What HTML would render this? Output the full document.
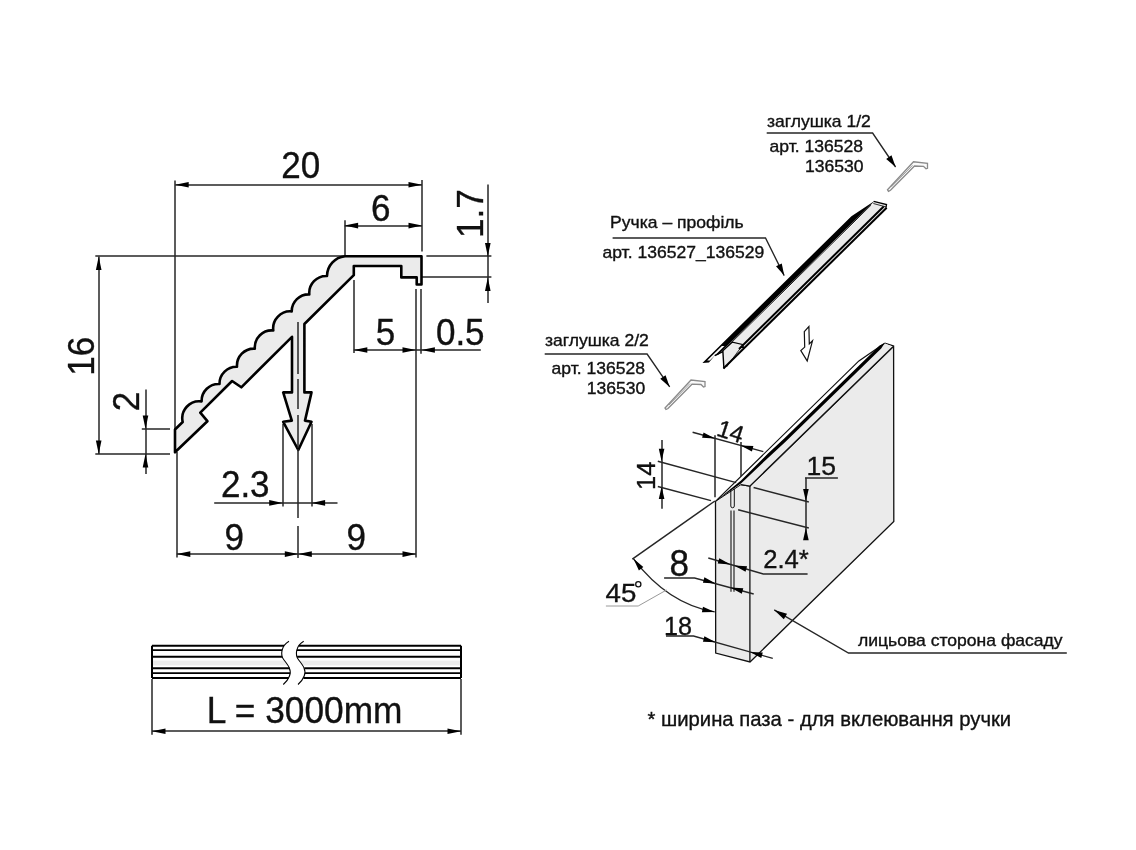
<!DOCTYPE html>
<html><head><meta charset="utf-8"><style>
html,body{margin:0;padding:0;background:#fff;width:1136px;height:850px;overflow:hidden}
svg{display:block;filter:grayscale(1)}
text{font-family:"Liberation Sans",sans-serif;fill:#111;stroke:#111;stroke-width:0.35px}
</style></head><body>
<svg width="1136" height="850" viewBox="0 0 1136 850">
<rect width="1136" height="850" fill="#fff"/>
<line x1="175.00" y1="180.50" x2="175.00" y2="440.00" stroke="#262626" stroke-width="1.5" />
<line x1="177.00" y1="452.00" x2="177.00" y2="557.50" stroke="#262626" stroke-width="1.5" />
<line x1="422.00" y1="180.00" x2="422.00" y2="251.50" stroke="#262626" stroke-width="1.5" />
<line x1="345.00" y1="220.30" x2="345.00" y2="256.30" stroke="#262626" stroke-width="1.5" />
<line x1="95.30" y1="256.00" x2="345.00" y2="256.00" stroke="#262626" stroke-width="1.5" />
<line x1="426.40" y1="256.00" x2="491.40" y2="256.00" stroke="#262626" stroke-width="1.5" />
<line x1="421.70" y1="277.00" x2="491.40" y2="277.00" stroke="#262626" stroke-width="1.5" />
<line x1="95.30" y1="454.00" x2="170.00" y2="454.00" stroke="#262626" stroke-width="1.5" />
<line x1="141.80" y1="429.00" x2="170.00" y2="429.00" stroke="#262626" stroke-width="1.5" />
<line x1="354.00" y1="279.90" x2="354.00" y2="353.10" stroke="#262626" stroke-width="1.5" />
<line x1="416.00" y1="289.00" x2="416.00" y2="557.50" stroke="#262626" stroke-width="1.5" />
<line x1="421.00" y1="289.00" x2="421.00" y2="353.80" stroke="#262626" stroke-width="1.5" />
<line x1="283.00" y1="424.00" x2="283.00" y2="506.50" stroke="#262626" stroke-width="1.5" />
<line x1="312.00" y1="424.00" x2="312.00" y2="506.50" stroke="#262626" stroke-width="1.5" />
<line x1="175.20" y1="185.00" x2="422.00" y2="185.00" stroke="#262626" stroke-width="1.5" />
<polygon points="175.20,184.80 188.70,182.00 188.70,187.60" fill="#000" stroke="none" stroke-width="1.0" />
<polygon points="422.00,184.80 408.50,187.60 408.50,182.00" fill="#000" stroke="none" stroke-width="1.0" />
<line x1="344.60" y1="226.00" x2="422.00" y2="226.00" stroke="#262626" stroke-width="1.5" />
<polygon points="344.60,225.60 358.10,222.80 358.10,228.40" fill="#000" stroke="none" stroke-width="1.0" />
<polygon points="422.00,225.60 408.50,228.40 408.50,222.80" fill="#000" stroke="none" stroke-width="1.0" />
<line x1="488.00" y1="184.40" x2="488.00" y2="303.10" stroke="#262626" stroke-width="1.5" />
<polygon points="487.80,256.40 485.00,242.90 490.60,242.90" fill="#000" stroke="none" stroke-width="1.0" />
<polygon points="487.80,277.40 490.60,290.90 485.00,290.90" fill="#000" stroke="none" stroke-width="1.0" />
<line x1="99.00" y1="256.40" x2="99.00" y2="454.00" stroke="#262626" stroke-width="1.5" />
<polygon points="98.70,256.40 101.50,269.90 95.90,269.90" fill="#000" stroke="none" stroke-width="1.0" />
<polygon points="98.70,454.00 95.90,440.50 101.50,440.50" fill="#000" stroke="none" stroke-width="1.0" />
<line x1="146.00" y1="389.60" x2="146.00" y2="474.00" stroke="#262626" stroke-width="1.5" />
<polygon points="145.50,429.10 142.70,415.60 148.30,415.60" fill="#000" stroke="none" stroke-width="1.0" />
<polygon points="145.50,454.00 148.30,467.50 142.70,467.50" fill="#000" stroke="none" stroke-width="1.0" />
<line x1="353.80" y1="350.00" x2="480.80" y2="350.00" stroke="#262626" stroke-width="1.5" />
<polygon points="353.80,350.00 367.30,347.20 367.30,352.80" fill="#000" stroke="none" stroke-width="1.0" />
<polygon points="416.00,350.00 402.50,352.80 402.50,347.20" fill="#000" stroke="none" stroke-width="1.0" />
<polygon points="421.40,350.00 434.90,347.20 434.90,352.80" fill="#000" stroke="none" stroke-width="1.0" />
<line x1="214.20" y1="503.00" x2="337.50" y2="503.00" stroke="#262626" stroke-width="1.5" />
<polygon points="282.70,502.90 269.20,505.70 269.20,500.10" fill="#000" stroke="none" stroke-width="1.0" />
<polygon points="311.60,502.90 325.10,500.10 325.10,505.70" fill="#000" stroke="none" stroke-width="1.0" />
<line x1="176.80" y1="554.00" x2="416.00" y2="554.00" stroke="#262626" stroke-width="1.5" />
<polygon points="176.80,554.10 190.30,551.30 190.30,556.90" fill="#000" stroke="none" stroke-width="1.0" />
<polygon points="298.30,554.10 284.80,556.90 284.80,551.30" fill="#000" stroke="none" stroke-width="1.0" />
<polygon points="298.30,554.10 311.80,551.30 311.80,556.90" fill="#000" stroke="none" stroke-width="1.0" />
<polygon points="416.00,554.10 402.50,556.90 402.50,551.30" fill="#000" stroke="none" stroke-width="1.0" />
<path d="M175.0,452.3 L175.0,429.5 L182.7,422.0 A17,17 0 0 1 201.6,401.4 A17,17 0 0 1 219.5,384.0 A17,17 0 0 1 237.0,366.8 A17,17 0 0 1 254.8,348.6 A17,17 0 0 1 273.3,330.5 A17,17 0 0 1 291.7,311.4 A17,17 0 0 1 309.3,294.4 A17,17 0 0 1 327.0,276.0 A20,20 0 0 1 345.0,256.3 L421.5,256.3 L421.5,284.5 L416.7,284.5 L416.7,277.4 L401.3,277.4 L401.3,266.0 L353.8,266.0 L353.8,275.2 L304.4,324.0 L304.4,392.4 L311.5,392.4 L305.0,420.6 L311.5,421.8 L298.3,450.0 L283.2,421.8 L291.8,420.6 L283.2,392.4 L292.0,392.4 L292.0,336.8 L241.3,387.3 L232.1,381.0 L200.3,412.7 L207.4,421.2 Z" fill="#ebebeb" stroke="#000" stroke-width="2.6" stroke-linejoin="round"/>
<line x1="298.00" y1="322.00" x2="298.00" y2="374.00" stroke="#262626" stroke-width="1.5" />
<line x1="298.00" y1="379.00" x2="298.00" y2="409.00" stroke="#262626" stroke-width="1.5" />
<line x1="298.00" y1="415.00" x2="298.00" y2="448.00" stroke="#262626" stroke-width="1.5" />
<line x1="298.00" y1="449.00" x2="298.00" y2="518.00" stroke="#262626" stroke-width="1.5" />
<line x1="298.00" y1="526.00" x2="298.00" y2="558.00" stroke="#262626" stroke-width="1.5" />
<polygon points="152.00,660.50 283.00,660.50 289.00,665.50 152.00,665.50" fill="#ebebeb" stroke="none" stroke-width="1.0" />
<polygon points="300.00,660.50 461.00,660.50 461.00,665.50 302.00,665.50" fill="#ebebeb" stroke="none" stroke-width="1.0" />
<line x1="152.00" y1="645.70" x2="284.10" y2="645.70" stroke="#000" stroke-width="1.9" />
<line x1="298.90" y1="645.70" x2="461.00" y2="645.70" stroke="#000" stroke-width="1.9" />
<line x1="152.00" y1="650.10" x2="282.10" y2="650.10" stroke="#000" stroke-width="1.9" />
<line x1="296.90" y1="650.10" x2="461.00" y2="650.10" stroke="#000" stroke-width="1.9" />
<line x1="152.00" y1="656.80" x2="282.30" y2="656.80" stroke="#000" stroke-width="1.9" />
<line x1="297.10" y1="656.80" x2="461.00" y2="656.80" stroke="#000" stroke-width="1.9" />
<line x1="152.00" y1="668.30" x2="289.50" y2="668.30" stroke="#000" stroke-width="1.9" />
<line x1="304.30" y1="668.30" x2="461.00" y2="668.30" stroke="#000" stroke-width="1.9" />
<line x1="152.00" y1="673.10" x2="290.20" y2="673.10" stroke="#000" stroke-width="1.9" />
<line x1="305.00" y1="673.10" x2="461.00" y2="673.10" stroke="#000" stroke-width="1.9" />
<line x1="152.00" y1="678.00" x2="288.60" y2="678.00" stroke="#000" stroke-width="1.9" />
<line x1="303.40" y1="678.00" x2="461.00" y2="678.00" stroke="#000" stroke-width="1.9" />
<line x1="152.00" y1="645.70" x2="152.00" y2="678.00" stroke="#000" stroke-width="2.0" />
<line x1="461.00" y1="645.70" x2="461.00" y2="678.00" stroke="#000" stroke-width="2.0" />
<path d="M289,641.3 C281,646 280,655 284,660 C288,665 292,670 289.5,676 C288,680 285,683 283.3,684.5" fill="none" stroke="#000" stroke-width="1.1" />
<path d="M303.7,641.3 C295.7,646 294.7,655 298.7,660 C302.7,665 306.7,670 304.2,676 C302.7,680 299.7,683 298.0,684.5" fill="none" stroke="#000" stroke-width="1.1" />
<line x1="152.00" y1="679.00" x2="152.00" y2="734.80" stroke="#262626" stroke-width="1.5" />
<line x1="461.00" y1="679.00" x2="461.00" y2="734.80" stroke="#262626" stroke-width="1.5" />
<line x1="152.00" y1="731.00" x2="461.00" y2="731.00" stroke="#262626" stroke-width="1.5" />
<polygon points="152.00,731.30 165.50,728.50 165.50,734.10" fill="#000" stroke="none" stroke-width="1.0" />
<polygon points="461.00,731.30 447.50,734.10 447.50,728.50" fill="#000" stroke="none" stroke-width="1.0" />
<path d="M887.5,189.8 L913.5,161.8 L927.5,163.3 L927.5,168.3 L926.0,168.8 L923.5,166.3 L914.5,166.0 L890.5,190.3 L888.5,191.3 Z" fill="#fafafa" stroke="#8a8a8a" stroke-width="1.3" />
<path d="M891.5,186.8 L912.5,165.3" fill="none" stroke="#8a8a8a" stroke-width="0.8" />
<path d="M665.0,408.0 L691.0,380.0 L705.0,381.5 L705.0,386.5 L703.5,387.0 L701.0,384.5 L692.0,384.2 L668.0,408.5 L666.0,409.5 Z" fill="#fafafa" stroke="#8a8a8a" stroke-width="1.3" />
<path d="M669.0,405.0 L690.0,383.5" fill="none" stroke="#8a8a8a" stroke-width="0.8" />
<polygon points="702.92,362.50 851.45,216.20 873.70,201.40 886.50,204.50 886.00,207.70 724.43,368.50 723.90,368.50 721.80,351.40 714.70,355.60" fill="#ebebeb" stroke="none" stroke-width="1.0" />
<polygon points="723.63,349.00 870.83,204.00 873.43,204.00 726.23,349.00" fill="#fff" stroke="none" stroke-width="1.0" />
<polyline points="725.03,349.00 871.22,205.00" fill="none" stroke="#000" stroke-width="0.9" />
<polygon points="702.41,363.00 851.45,216.20 873.70,201.40 874.07,201.40 717.93,355.00 714.70,355.60 709.00,362.50" fill="#000" stroke="none" stroke-width="1.0" />
<polygon points="707.15,360.50 721.87,346.00 724.47,346.00 709.75,360.50" fill="#fff" stroke="none" stroke-width="1.0" />
<polyline points="883.70,206.50 739.03,349.00" fill="none" stroke="#000" stroke-width="2.0" />
<polyline points="886.68,207.70 723.43,368.50" fill="none" stroke="#000" stroke-width="2.0" />
<polyline points="873.70,201.40 886.50,204.50 886.00,207.70" fill="none" stroke="#000" stroke-width="1.3" />
<polyline points="873.34,203.50 886.30,207.00" fill="none" stroke="#000" stroke-width="0.8" />
<polyline points="714.70,355.60 722.90,351.50 723.90,368.50" fill="none" stroke="#000" stroke-width="1.4" />
<polyline points="722.09,351.50 732.40,342.10 742.40,344.40 743.50,347.40 740.65,347.40" fill="none" stroke="#000" stroke-width="1.2" />
<polyline points="726.50,367.00 740.13,348.50" fill="none" stroke="#000" stroke-width="0.8" />
<polygon points="804.30,331.60 808.90,326.60 809.30,343.90 812.50,340.80 807.20,360.90 800.80,350.60 804.70,347.10" fill="#fff" stroke="#111" stroke-width="1.2" />
<polygon points="749.80,486.10 893.00,346.50 893.80,521.50 750.00,662.00" fill="#ebebeb" stroke="none" stroke-width="1.0" />
<polygon points="715.20,501.60 741.00,484.60 749.80,486.10 750.00,662.00 715.70,653.10" fill="#ebebeb" stroke="none" stroke-width="1.0" />
<polyline points="884.60,343.20 893.60,345.90 893.80,521.50 750.00,662.00 715.70,653.10 715.50,501.60" fill="none" stroke="#111" stroke-width="1.3" />
<polyline points="749.90,486.10 749.90,662.00" fill="none" stroke="#111" stroke-width="1.3" />
<polyline points="741.00,484.60 749.80,486.10 893.00,346.80" fill="none" stroke="#111" stroke-width="1.3" />
<polyline points="715.20,501.60 741.00,484.60" fill="none" stroke="#111" stroke-width="1.0" />
<polygon points="741.00,484.60 749.80,486.10 893.00,346.80 884.60,343.20 880.40,347.00 785.00,440.00 768.80,455.00 741.00,482.00" fill="#ebebeb" stroke="none" stroke-width="1.0" />
<polyline points="715.20,501.60 858.90,360.90 884.60,343.20" fill="none" stroke="#111" stroke-width="1.2" />
<polygon points="715.20,501.60 741.00,480.60 768.00,453.60 784.20,438.60 879.60,345.60 884.60,343.20 881.20,348.40 785.80,441.40 769.60,456.40 741.00,483.40" fill="#000" stroke="none" stroke-width="1.0" />
<polyline points="741.00,484.60 749.80,486.10 893.00,346.80" fill="none" stroke="#111" stroke-width="1.3" />
<path d="M730.8,488.9 L730.8,506 A1.75,1.75 0 0 0 734.3,506 L734.3,488.9" fill="none" stroke="#111" stroke-width="1.0" />
<line x1="731.00" y1="510.60" x2="731.00" y2="591.80" stroke="#262626" stroke-width="1.2" />
<line x1="734.00" y1="510.60" x2="734.00" y2="591.80" stroke="#262626" stroke-width="1.2" />
<line x1="715.00" y1="435.20" x2="715.00" y2="497.30" stroke="#262626" stroke-width="1.5" />
<line x1="741.00" y1="442.00" x2="741.00" y2="476.20" stroke="#262626" stroke-width="1.5" />
<line x1="692.60" y1="432.30" x2="763.30" y2="451.60" stroke="#262626" stroke-width="1.5" />
<polygon points="714.90,438.40 702.10,437.81 703.58,432.40" fill="#000" stroke="none" stroke-width="1.0" />
<polygon points="740.60,445.40 753.40,445.99 751.92,451.40" fill="#000" stroke="none" stroke-width="1.0" />
<line x1="662.00" y1="440.00" x2="662.00" y2="508.80" stroke="#262626" stroke-width="1.5" />
<polygon points="661.60,461.30 658.80,448.80 664.40,448.80" fill="#000" stroke="none" stroke-width="1.0" />
<polygon points="661.60,486.50 664.40,499.00 658.80,499.00" fill="#000" stroke="none" stroke-width="1.0" />
<line x1="657.80" y1="461.30" x2="736.20" y2="482.60" stroke="#262626" stroke-width="1.5" />
<line x1="657.80" y1="486.50" x2="711.00" y2="500.60" stroke="#262626" stroke-width="1.5" />
<line x1="806.00" y1="477.80" x2="806.00" y2="540.00" stroke="#262626" stroke-width="1.5" />
<line x1="805.00" y1="478.00" x2="837.90" y2="478.00" stroke="#262626" stroke-width="1.5" />
<polygon points="805.90,501.50 803.10,489.00 808.70,489.00" fill="#000" stroke="none" stroke-width="1.0" />
<polygon points="805.90,527.80 808.70,540.30 803.10,540.30" fill="#000" stroke="none" stroke-width="1.0" />
<line x1="753.60" y1="487.50" x2="808.80" y2="502.00" stroke="#262626" stroke-width="1.5" />
<line x1="738.10" y1="509.70" x2="808.80" y2="528.10" stroke="#262626" stroke-width="1.5" />
<polyline points="664.10,578.00 694.60,578.00 753.70,594.00" fill="none" stroke="#262626" stroke-width="1.35" />
<polygon points="715.70,583.40 702.91,582.74 704.41,577.34" fill="#000" stroke="none" stroke-width="1.0" />
<polygon points="730.50,587.60 743.29,588.26 741.79,593.66" fill="#000" stroke="none" stroke-width="1.0" />
<polyline points="807.60,574.00 763.30,574.00 708.30,558.00" fill="none" stroke="#262626" stroke-width="1.35" />
<polygon points="730.50,564.40 717.71,563.62 719.27,558.24" fill="#000" stroke="none" stroke-width="1.0" />
<polygon points="734.30,565.50 747.09,566.28 745.53,571.66" fill="#000" stroke="none" stroke-width="1.0" />
<polyline points="666.00,636.00 693.50,636.00 772.80,658.40" fill="none" stroke="#262626" stroke-width="1.35" />
<polygon points="715.70,642.30 702.91,641.63 704.42,636.23" fill="#000" stroke="none" stroke-width="1.0" />
<polygon points="750.00,651.90 762.79,652.57 761.28,657.97" fill="#000" stroke="none" stroke-width="1.0" />
<line x1="632.30" y1="559.10" x2="714.90" y2="501.00" stroke="#262626" stroke-width="1.5" />
<path d="M633.5,558.8 Q668,604 714.7,611.9" fill="none" stroke="#262626" stroke-width="1.35" />
<polygon points="633.50,558.80 643.34,567.00 638.90,570.41" fill="#000" stroke="none" stroke-width="1.0" />
<polygon points="714.70,611.90 701.89,612.19 702.99,606.70" fill="#000" stroke="none" stroke-width="1.0" />
<polyline points="605.90,606.00 638.20,606.00 666.50,590.00" fill="none" stroke="#9a9a9a" stroke-width="1.0" />
<circle cx="638.3" cy="584.3" r="2.6" fill="none" stroke="#111" stroke-width="1.3"/>
<polyline points="766.70,133.00 872.60,133.00 895.60,167.00" fill="none" stroke="#262626" stroke-width="1.35" />
<polygon points="895.60,167.00 886.19,158.89 891.48,155.28" fill="#000" stroke="none" stroke-width="1.0" />
<polyline points="612.60,238.00 765.50,238.00 784.20,275.60" fill="none" stroke="#262626" stroke-width="1.35" />
<polygon points="784.20,275.60 776.03,266.25 781.77,263.42" fill="#000" stroke="none" stroke-width="1.0" />
<polyline points="544.70,354.00 647.10,354.00 669.70,386.90" fill="none" stroke="#262626" stroke-width="1.35" />
<polygon points="669.70,386.90 660.27,378.82 665.54,375.20" fill="#000" stroke="none" stroke-width="1.0" />
<polyline points="1066.80,653.00 848.50,653.00 774.20,609.90" fill="none" stroke="#262626" stroke-width="1.35" />
<polygon points="774.20,609.90 787.04,613.69 783.81,619.22" fill="#000" stroke="none" stroke-width="1.0" />
<text transform="translate(281.20,178.00) scale(0.96,1)" font-size="36.50">20</text>
<text transform="translate(371.00,220.70) scale(0.96,1)" font-size="36.50">6</text>
<text transform="translate(375.70,344.60) scale(0.96,1)" font-size="36.50">5</text>
<text transform="translate(435.90,344.60) scale(0.96,1)" font-size="36.50">0.5</text>
<text transform="translate(220.90,496.70) scale(0.96,1)" font-size="36.50">2.3</text>
<text transform="translate(224.50,550.20) scale(0.96,1)" font-size="36.50">9</text>
<text transform="translate(346.60,550.20) scale(0.96,1)" font-size="36.50">9</text>
<text transform="translate(206.70,723.10) scale(0.96,1)" font-size="36.75">L = 3000mm</text>
<text transform="translate(483.00,238.00) rotate(-90) scale(0.96,1)" font-size="36.50">1.7</text>
<text transform="translate(93.90,375.70) rotate(-90) scale(0.96,1)" font-size="36.50">16</text>
<text transform="translate(139.00,411.30) rotate(-90) scale(0.96,1)" font-size="36.50">2</text>
<text transform="translate(655.30,489.90) rotate(-90) scale(1,1)" font-size="25.50">14</text>
<text transform="translate(669.50,575.90) scale(0.96,1)" font-size="36.50">8</text>
<text transform="translate(763.20,567.90) scale(1,1)" font-size="25.65">2.4*</text>
<text transform="translate(605.50,602.40) scale(1.04,1)" font-size="26.63">45</text>
<text transform="translate(663.90,634.70) scale(1,1)" font-size="25.19">18</text>
<text transform="translate(806.60,475.30) scale(1,1)" font-size="26.52">15</text>
<text transform="translate(766.90,126.70) scale(1.09,1)" font-size="16.10">заглушка 1/2</text>
<text transform="translate(769.60,152.00) scale(1.09,1)" font-size="16.10">арт. 136528</text>
<text transform="translate(805.00,171.50) scale(1.09,1)" font-size="16.10">136530</text>
<text transform="translate(544.90,345.90) scale(1.09,1)" font-size="16.10">заглушка 2/2</text>
<text transform="translate(551.60,374.40) scale(1.09,1)" font-size="16.10">арт. 136528</text>
<text transform="translate(586.70,393.60) scale(1.09,1)" font-size="16.10">136530</text>
<text transform="translate(610.10,228.20) scale(1.09,1)" font-size="16.10">Ручка – профіль</text>
<text transform="translate(602.50,257.50) scale(1.09,1)" font-size="16.10">арт. 136527_136529</text>
<text transform="translate(858.00,645.80) scale(1.09,1)" font-size="16.10">лицьова сторона фасаду</text>
<text transform="translate(647.40,725.90) scale(1.0,1)" font-size="20.29">* ширина паза - для вклеювання ручки</text>
<text transform="translate(715.4,435.2) rotate(18)" font-size="24">14</text>
</svg></body></html>
